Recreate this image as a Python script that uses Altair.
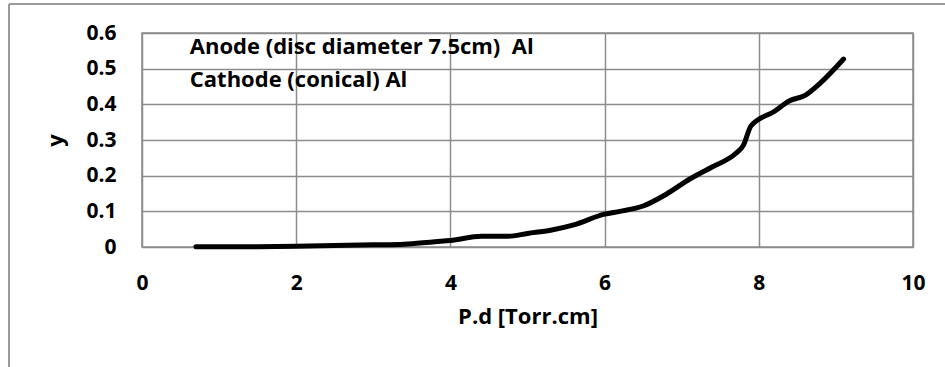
import altair as alt
import pandas as pd

pd_values = [0.7, 1.0, 1.5, 2.0, 2.5, 3.0, 3.4, 3.8, 4.0, 4.4, 4.75, 5.0, 5.3, 5.6, 6.0, 6.2, 6.5, 6.8, 7.1, 7.4, 7.7, 7.8, 7.9, 8.2, 8.4, 8.6, 8.8, 9.1]
y_values = [0.001, 0.001, 0.001, 0.002, 0.004, 0.006, 0.008, 0.015, 0.018, 0.030, 0.030, 0.038, 0.047, 0.062, 0.092, 0.100, 0.115, 0.148, 0.190, 0.225, 0.262, 0.285, 0.340, 0.380, 0.410, 0.425, 0.460, 0.527]

note_x = [0.62, 0.62]
note_y = [0.56, 0.468]
note_text = ["Anode (disc diameter 7.5cm)\u00a0 Al", "Cathode (conical) Al"]

x_ticks = [0, 2, 4, 6, 8, 10]
y_ticks = [0, 0.1, 0.2, 0.3, 0.4, 0.5, 0.6]

FONT = "Open Sans"
GRID = "#8c8c8c"

df = pd.DataFrame({"x": pd_values, "y": y_values})
notes = pd.DataFrame({"x": note_x, "y": note_y, "t": note_text})

xscale = alt.Scale(domain=[0, 10], nice=False)
yscale = alt.Scale(domain=[0, 0.6], nice=False)

xaxis = alt.Axis(values=x_ticks, title="P.d [Torr.cm]", grid=True, gridColor=GRID,
                 domain=False, ticks=False, labelPadding=25, titlePadding=13,
                 format="d", labelOverlap=False, labelFlush=False)
yaxis = alt.Axis(values=y_ticks, title="y", grid=True, gridColor=GRID,
                 domain=False, ticks=False, labelPadding=26, titlePadding=18,
                 labelOverlap=False, labelFlush=False,
                 labelExpr="datum.value == 0 ? '0' : format(datum.value, '.1f')")

line = alt.Chart(df).mark_line(color="black", strokeWidth=5, interpolate="monotone", strokeCap="round").encode(
    x=alt.X("x:Q", scale=xscale, axis=xaxis),
    y=alt.Y("y:Q", scale=yscale, axis=yaxis),
)

text = alt.Chart(notes).mark_text(align="left", baseline="middle", font=FONT, fontWeight="bold",
                                  fontSize=22, color="black").encode(
    x=alt.X("x:Q", scale=xscale, axis=xaxis), y=alt.Y("y:Q", scale=yscale, axis=yaxis), text="t:N")

border_left = alt.Chart(df).mark_rule(color="#9a9a9a", strokeWidth=1.5).encode(
    x=alt.value(-133), y=alt.value(-29), y2=alt.value(400))
border_top = alt.Chart(df).mark_rule(color="#9a9a9a", strokeWidth=1.5).encode(
    x=alt.value(-133), x2=alt.value(820), y=alt.value(-29))

chart = alt.layer(line, text, border_left, border_top).properties(
    width=771, height=214,
    autosize=alt.AutoSizeParams(type="none"),
    padding={"left": 142, "top": 33, "right": 32, "bottom": 120},
    background="white",
).configure_view(stroke=GRID, strokeWidth=1.5).configure_axis(
    labelFont=FONT, titleFont=FONT, labelFontSize=21, titleFontSize=22,
    labelFontWeight="bold", titleFontWeight="bold", labelColor="black", titleColor="black",
    gridWidth=1.5,
)

chart.save("out.html", embed_options={"renderer": "svg", "actions": False})
